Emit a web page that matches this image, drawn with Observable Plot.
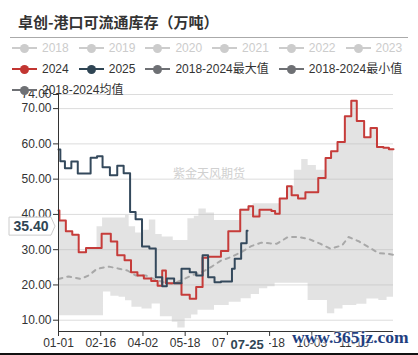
<!DOCTYPE html>
<html><head><meta charset="utf-8">
<script src="https://cdn.jsdelivr.net/npm/d3@7"></script>
<script src="https://cdn.jsdelivr.net/npm/@observablehq/plot@0.6"></script>
<style>
body{margin:0;background:#fff;}
#wrap{position:relative;width:418px;height:355px;overflow:hidden;font-family:"Liberation Sans","Noto Sans CJK SC",sans-serif;color:#333;}
#title{position:absolute;left:18px;top:11px;font-weight:bold;font-size:15px;font-family:"Noto Sans CJK SC",sans-serif;color:#333;white-space:nowrap;}
#rule{position:absolute;left:10px;top:37px;width:398px;height:1px;background:#aaa;}
.row{position:absolute;left:12px;display:flex;gap:10px;font-size:12px;white-space:nowrap;}
.item{display:flex;align-items:center;height:14px;line-height:14px;}
.sym{position:relative;width:25px;height:14px;margin-right:5px;flex:none;}
.sym .ln{position:absolute;left:0;top:6px;width:25px;height:2px;}
.sym .dt{position:absolute;left:8px;top:2.5px;width:9px;height:9px;border-radius:50%;}
#wm{position:absolute;left:173px;top:164px;font-size:12px;color:#d0d0d0;font-family:"Noto Sans CJK SC",sans-serif;}
#site{position:absolute;left:292px;top:327px;font-size:17.5px;font-weight:bold;font-family:"Liberation Serif",serif;color:#1f3f7f;white-space:nowrap;text-shadow:0 0 2px #fff,0 0 3px #fff,0 0 4px #fff;}
#bot{position:absolute;left:0;top:353px;width:418px;height:2px;background:#111;}
#chart{position:absolute;left:0;top:0;}
</style></head>
<body>
<div id="wrap">
  <div id="chart"></div>
  <div id="title">卓创-港口可流通库存（万吨）</div>
  <div id="rule"></div>
  <div id="legend"></div>
  <div id="wm">紫金天风期货</div>
  <div id="site">www.365jz.com</div>
  <div id="bot"></div>
</div>
<script>
// ---- data ----
const xTicks = ["01-01","02-16","04-02","05-18","07-03","08-18","10-03","11-18"];
const yTicks = [10,20,30,40,50,60,70,74];
const yMin = 6.8, yMax = 74;

const dates2024 = ["01-01","01-02","01-09","01-16","01-23","01-31","02-17","02-27","03-05","03-13","03-20","03-27","04-03","04-11","04-18","04-23","04-27","05-14","05-23","05-30","06-06","06-12","06-26","07-04","07-17","07-26","07-31","08-07","08-20","08-24","08-29","09-06","09-11","09-18","09-26","10-10","10-18","10-24","10-31","11-08","11-15","11-21","11-29","12-06","12-13","12-20","12-26","12-31"];
const vals2024 = [41.1,38.3,35.2,34.2,29.3,30.5,34.5,32.3,28.4,27.0,23.6,22.7,21.8,21.1,19.8,24.1,20.5,17.2,16.1,19.4,27.7,28.0,29.6,35.2,41.3,42.3,39.4,41.3,41.0,40.2,44.5,48.0,45.4,44.5,46.3,50.3,56.0,57.9,60.5,67.8,72.2,66.5,61.9,64.5,59.1,58.9,58.5,58.5];

const dates2025 = ["01-01","01-03","01-08","01-15","01-22","02-05","02-12","02-18","02-26","03-05","03-12","03-19","03-25","04-01","04-09","04-16","04-23","04-28","05-06","05-14","05-23","05-30","06-06","06-12","06-19","06-26","07-08","07-11","07-18","07-24","07-25"];
const vals2025 = [58.4,55.1,53.1,55.0,51.6,56.1,56.5,53.4,51.1,53.8,51.7,40.7,38.6,30.9,30.3,22.2,19.6,21.8,20.5,24.6,23.6,22.7,28.4,22.2,20.8,21.0,24.6,27.4,31.8,35.4,35.4];

const datesMean = ["01-01","01-12","01-25","02-03","02-12","02-25","03-07","03-16","03-25","04-05","04-14","04-24","05-03","05-14","05-25","06-05","06-16","06-26","07-07","07-18","07-29","08-09","08-18","08-26","09-07","09-18","09-29","10-12","10-23","11-05","11-12","11-23","12-04","12-15","12-26","12-31"];
const valsMean = [21.7,22.4,21.7,22.7,24.6,25.2,24.6,24.1,22.7,22.7,21.7,20.8,20.3,21.3,22.7,23.6,25.2,26.9,27.9,29.3,31.0,32.0,31.8,31.7,33.6,33.6,33.1,31.7,30.3,31.2,33.6,32.4,30.7,29.0,28.8,28.5];

const datesMax = ["01-01","01-02","01-09","01-16","01-23","01-31","02-12","02-18","03-14","03-18","03-25","04-02","04-09","04-16","04-23","05-05","05-21","05-28","06-02","06-10","06-19","07-17","07-26","07-31","08-29","09-06","09-14","09-22","09-29","10-08","10-18","10-24","10-31","11-08","11-15","11-21","11-29","12-06","12-13","12-20","12-26","12-31"];
const valsMax = [41.1,38.3,35.2,34.2,29.3,30.5,36.5,39.0,39.7,36.5,34.7,35.5,38.4,34.3,33.6,32.6,38.8,39.5,41.5,40.4,38.3,41.5,42.5,43.0,44.5,48.0,52.5,55.6,53.9,52.5,56.0,57.9,60.5,67.8,72.2,66.5,61.9,64.5,59.1,58.9,58.5,58.5];

const datesMin = ["01-01","02-19","02-27","03-07","03-14","03-21","04-01","04-12","04-21","05-04","05-10","05-18","05-25","06-01","06-19","07-05","07-18","07-29","08-07","08-16","08-24","09-29","10-20","10-28","11-06","11-21","12-02","12-15","12-24","12-31"];
const valsMin = [11.3,18.0,16.8,16.5,15.5,13.7,13.2,14.6,11.0,9.4,7.8,10.4,11.5,12.8,14.2,15.1,16.1,17.3,18.9,19.5,20.5,15.6,11.8,13.2,14.2,14.5,16.0,15.6,16.5,16.7];

const legendNames = [["2018","2019","2020","2021","2022","2023"],["2024","2025","2018-2024最大值","2018-2024最小值"],["2018-2024均值"]];
const legendColors = [["#ccc","#ccc","#ccc","#ccc","#ccc","#ccc"],["#c23531","#2f4554","#6e7074","#6e7074"],["#6e7074"]];
const legendTextColors = [["#ccc","#ccc","#ccc","#ccc","#ccc","#ccc"],["#333","#333","#333","#333"],["#333"]];
const legendRowTops = [41, 62, 83];

const pointerDate = "07-25", pointerVal = 35.40;

// ---- build ----
const parse = s => new Date(2024, +s.slice(0,2) - 1, +s.slice(3,5));
const toRows = (ds, vs) => ds.map((d, i) => ({date: parse(d), v: vs[i]}));
const s2024 = toRows(dates2024, vals2024);
const s2025 = toRows(dates2025, vals2025);
const sMean = toRows(datesMean, valsMean);
const sMax = toRows(datesMax, valsMax);
const sMin = toRows(datesMin, valsMin);
const allDates = Array.from(new Set([...datesMax, ...datesMin])).map(parse).sort((a,b)=>a-b);
const stepAt = (rows, t) => { let v = rows[0].v; for (const r of rows) { if (r.date <= t) v = r.v; } return v; };
const band = allDates.map(t => ({date: t, lo: stepAt(sMin, t), hi: stepAt(sMax, t)}));

// legend
const leg = document.getElementById("legend");
legendNames.forEach((row, ri) => {
  const r = document.createElement("div");
  r.className = "row"; r.style.top = legendRowTops[ri] + "px";
  row.forEach((name, i) => {
    const it = document.createElement("div"); it.className = "item";
    const c = legendColors[ri][i];
    it.innerHTML = `<div class="sym"><div class="ln" style="background:${c}"></div><div class="dt" style="background:${c}"></div></div><span style="color:${legendTextColors[ri][i]}">${name}</span>`;
    r.appendChild(it);
  });
  leg.appendChild(r);
});

const x0 = parse("01-01");
const plot = Plot.plot({
  width: 418, height: 355,
  marginLeft: 58, marginRight: 25, marginTop: 94, marginBottom: 24,
  style: {fontFamily: '"Liberation Sans","Noto Sans CJK SC",sans-serif', fontSize: "12px", color: "#333", background: "transparent"},
  x: {type: "time", domain: [parse("01-01"), parse("12-31")]},
  y: {domain: [yMin, yMax]},
  marks: [
    Plot.gridY(yTicks, {stroke: "#dcdcdc", strokeOpacity: 1}),
    Plot.areaY(band, {x: "date", y1: "lo", y2: "hi", curve: "step-after", fill: "#b8b8b8", fillOpacity: 0.4}),
    Plot.line(sMean, {x: "date", y: "v", stroke: "#a8a8a8", strokeWidth: 2, strokeDasharray: "4,5"}),
    Plot.line(s2024, {x: "date", y: "v", curve: "step-after", stroke: "#c63c3a", strokeWidth: 2}),
    Plot.line(s2025, {x: "date", y: "v", curve: "step-after", stroke: "#34495c", strokeWidth: 2}),
    Plot.ruleX([x0], {stroke: "#333", strokeWidth: 1}),
    Plot.ruleY([yMin], {stroke: "#333", strokeWidth: 1}),
    Plot.axisX({ticks: xTicks.map(parse), tickFormat: d3.timeFormat("%m-%d"), tickSize: 5, tickPadding: 2, label: null, stroke: "#333", fill: "#333"}),
    Plot.axisY({ticks: yTicks, tickFormat: d => d.toFixed(2), tickSize: 5, tickPadding: 2, label: null, stroke: "#333", fill: "#333"})
  ]
});
document.getElementById("chart").appendChild(plot);

// axis pointer labels via the plot's own scales
const X = plot.scale("x"), Y = plot.scale("y");
const svg = d3.select(plot);
const py = Y.apply(pointerVal) - 4;
const gy = svg.append("g");
gy.append("path").attr("d", `M9,${py-9}H51L55,${py}L51,${py+9}H9Z`).attr("fill", "#fff").attr("stroke", "#ccc");
gy.append("text").attr("x", 31).attr("y", py).attr("dy", "0.36em").attr("text-anchor", "middle")
  .attr("font-weight", "bold").attr("font-size", 14).attr("fill", "#2f4554").text(pointerVal.toFixed(2));
const px = X.apply(parse(pointerDate));
const gx = svg.append("g");
gx.append("rect").attr("x", px - 22).attr("y", 335).attr("width", 44).attr("height", 17).attr("fill", "#fff");
gx.append("text").attr("x", px).attr("y", 344).attr("dy", "0.36em").attr("text-anchor", "middle")
  .attr("font-weight", "bold").attr("font-size", 13).attr("fill", "#2f4554").text(pointerDate);
</script>
</body></html>
